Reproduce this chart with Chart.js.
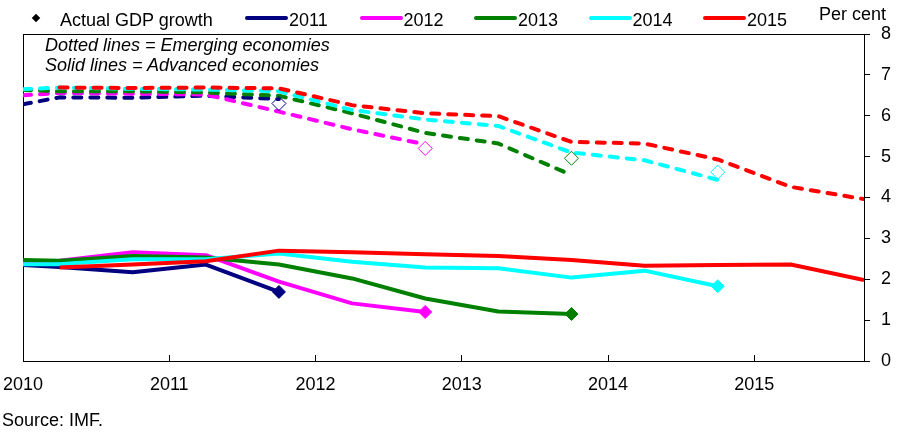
<!DOCTYPE html>
<html>
<head>
<meta charset="utf-8">
<script src="https://cdn.jsdelivr.net/npm/chart.js@4.4.1/dist/chart.umd.min.js"></script>
<style>
	html, body { margin:0; padding:0; background:#fff; }
	#wrap { position:relative; width:919px; height:433px; font-family:"Liberation Sans", Arial, sans-serif; color:#000; overflow:hidden; }
	#wrap canvas { position:absolute; left:0; top:0; }
	.txt { position:absolute; font-size:18px; line-height:18px; white-space:nowrap; }
	.note { font-style:italic; }
	.swatch { position:absolute; top:16px; width:43px; height:4px; border-radius:2px; }
	.dia { position:absolute; left:33px; top:15px; width:6px; height:6px; background:#000; transform:rotate(45deg); }
</style>
</head>
<body>
<div id="wrap">
	<canvas id="chart" width="919" height="433"></canvas>
	<div class="dia"></div>
	<div class="txt" style="left:60px; top:11px;">Actual GDP growth</div>
	<div id="legend"></div>
	<div class="txt" style="left:819px; top:5px;">Per cent</div>
	<div class="txt note" style="left:45px; top:36px;">Dotted lines = Emerging economies</div>
	<div class="txt note" style="left:45px; top:56px;">Solid lines = Advanced economies</div>
	<div class="txt" style="left:2px; top:411px;">Source: IMF.</div>
</div>
<script>
// forecast release dates (spring / autumn WEO)
const releases = [2010, 2010.25, 2010.75, 2011.25, 2011.75, 2012.25, 2012.75, 2013.25, 2013.75, 2014.25, 2014.75, 2015.25, 2015.75];
const years = ['2011', '2012', '2013', '2014', '2015'];
const colours = ['#000080', '#ff00ff', '#008000', '#00ffff', '#ff0000'];
const xTickYears = [2010, 2011, 2012, 2013, 2014, 2015];
const yTicks = [0, 1, 2, 3, 4, 5, 6, 7, 8];

// advanced economies (solid)
const adv2011 = [2.35, 2.30, 2.17, 2.36, 1.69];
const adv2012 = [2.40, 2.45, 2.66, 2.59, 1.94, 1.41, 1.20];
const adv2013 = [2.47, 2.45, 2.57, 2.53, 2.36, 2.02, 1.53, 1.21, 1.15];
const adv2014 = [2.37, 2.37, 2.49, 2.49, 2.63, 2.43, 2.29, 2.27, 2.04, 2.21, 1.83];
const adv2015 = [null, 2.29, 2.36, 2.44, 2.70, 2.66, 2.61, 2.57, 2.47, 2.33, 2.35, 2.36, 1.98];

// emerging economies (dotted)
const em2011 = [6.28, 6.45, 6.44, 6.49, 6.41];
const em2012 = [6.50, 6.56, 6.54, 6.52, 6.10, 5.67, 5.30];
const em2013 = [6.63, 6.60, 6.60, 6.57, 6.49, 6.06, 5.58, 5.32, 4.55];
const em2014 = [6.65, 6.69, 6.66, 6.64, 6.60, 6.14, 5.91, 5.75, 5.10, 4.91, 4.43];
const em2015 = [null, 6.69, 6.68, 6.69, 6.67, 6.26, 6.06, 5.99, 5.36, 5.32, 4.93, 4.26, 3.96];

// actual outturns
const actualDates = [2011.75, 2012.75, 2013.75, 2014.75];
const actualAdv = [1.69, 1.20, 1.15, 1.83];
const actualEm = [6.30, 5.20, 4.96, 4.62];

const advanced = [adv2011, adv2012, adv2013, adv2014, adv2015];
const emerging = [em2011, em2012, em2013, em2014, em2015];

const legendEl = document.getElementById('legend');
years.forEach((y, i) => {
	const left = 245 + i * 114.5;
	const sw = document.createElement('div');
	sw.className = 'swatch';
	sw.style.left = left + 'px';
	sw.style.background = colours[i];
	legendEl.appendChild(sw);
	const t = document.createElement('div');
	t.className = 'txt';
	t.style.left = (left + 44) + 'px';
	t.style.top = '11px';
	t.textContent = y;
	legendEl.appendChild(t);
});

function toPoints(values){
	return values.map((v, i) => ({ x: releases[i], y: v })).filter(p => p.y !== null);
}

const datasets = [];
datasets.push({
	label: 'Actual advanced',
	data: actualDates.map((d, i) => ({ x: d, y: actualAdv[i] })),
	showLine: false,
	pointStyle: 'rectRot',
	pointRadius: 6.5,
	pointBorderWidth: 1,
	pointBackgroundColor: colours.slice(0, 4),
	pointBorderColor: colours.slice(0, 4)
});
datasets.push({
	label: 'Actual emerging',
	data: actualDates.map((d, i) => ({ x: d, y: actualEm[i] })),
	showLine: false,
	pointStyle: 'rectRot',
	pointRadius: 7,
	pointBorderWidth: 1,
	pointBackgroundColor: 'rgba(0,0,0,0)',
	pointBorderColor: colours.slice(0, 4)
});
for(let i = years.length - 1; i >= 0; i--){
	datasets.push({
		label: years[i] + ' advanced',
		data: toPoints(advanced[i]),
		borderColor: colours[i],
		borderWidth: 4,
		borderJoinStyle: 'round',
		pointRadius: 0
	});
}
for(let i = years.length - 1; i >= 0; i--){
	datasets.push({
		label: years[i] + ' emerging',
		data: toPoints(emerging[i]),
		borderColor: colours[i],
		borderWidth: 4,
		borderDash: [8, 9],
		borderCapStyle: 'round',
		borderJoinStyle: 'round',
		pointRadius: 0
	});
}

const frame = {
	id: 'frame',
	beforeDatasetsDraw(chart){
		const { ctx, chartArea: a } = chart;
		ctx.save();
		ctx.strokeStyle = '#000';
		ctx.lineWidth = 1;
		ctx.strokeRect(Math.round(a.left) + 0.5, Math.round(a.top) + 0.5, a.right - a.left, a.bottom - a.top);
		ctx.restore();
	}
};

const font = { family: '"Liberation Sans", Arial, sans-serif', size: 18 };

new Chart(document.getElementById('chart'), {
	type: 'line',
	data: { datasets },
	plugins: [frame],
	options: {
		responsive: false,
		animation: false,
		layout: { padding: { left: 23, top: 34, right: 0, bottom: 0 } },
		plugins: { legend: { display: false }, tooltip: { enabled: false } },
		scales: {
			x: {
				type: 'linear',
				position: 'bottom',
				min: 2010,
				max: 2015.75,
				afterBuildTicks: s => { s.ticks = xTickYears.map(v => ({ value: v })); },
				afterFit: s => { s.height = 72; s.paddingLeft = 0; s.paddingRight = 0; },
				grid: { drawOnChartArea: false, tickLength: -6, color: '#000', lineWidth: 1 },
				border: { color: '#000', width: 1 },
				ticks: { color: '#000', font, padding: 19, maxRotation: 0, autoSkip: false, callback: v => String(v) }
			},
			y: {
				position: 'right',
				min: 0,
				max: 8,
				afterBuildTicks: s => { s.ticks = yTicks.map(v => ({ value: v })); },
				afterFit: s => { s.width = 55; s.paddingTop = 0; s.paddingBottom = 0; },
				grid: { drawOnChartArea: false, tickLength: 6, color: '#000', lineWidth: 1 },
				border: { color: '#000', width: 1 },
				ticks: { color: '#000', font, padding: 11, callback: v => String(v) }
			}
		}
	}
});
</script>
</body>
</html>
